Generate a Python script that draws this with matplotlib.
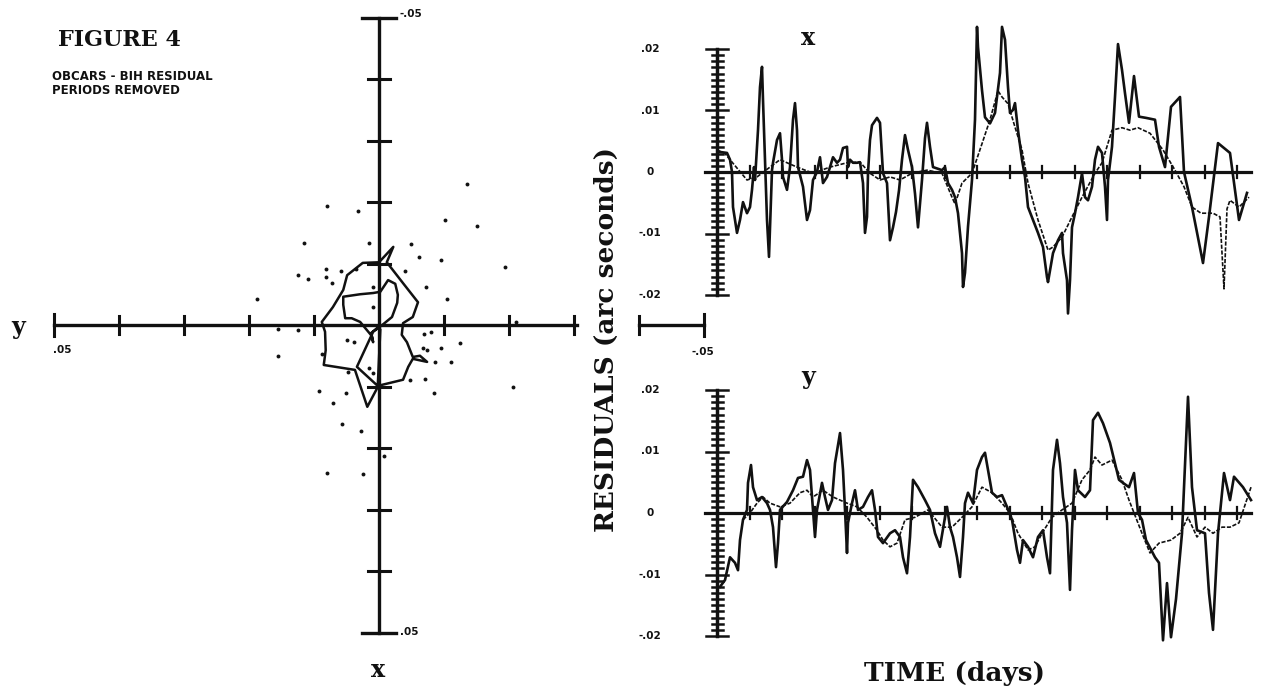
import matplotlib
matplotlib.use('Agg')
import matplotlib.pyplot as plt
import numpy as np

# ---- left panel: x/y polar motion residuals (milliarcsec) ----
scat_y = [-13.5, 8.0, 3.3, -10.2, -15.0, 11.5, 1.6, -4.9, -6.2, -9.5, -19.4, 8.2, 5.9, 3.5,
          12.5, 10.9, 8.2, 7.2, -4.0, -7.3, 18.7, -10.5, 1.0, 15.6, 12.4, -21.1, 15.6, 4.9,
          3.8, -6.9, -8.0, -12.4, -9.6, -6.7, -7.4, -11.0, -8.6, 4.8, 1.5, 0.9, -7.1, -4.8,
          -20.6, 9.3, 5.1, -8.4, 7.1, 5.7, 2.8, 8.0, 2.4, -0.8, 8.8, 1.0]
scat_x = [-23.0, -19.3, -18.6, -17.1, -16.1, -13.4, -13.4, -13.1, -11.1, -10.5, -9.5, -9.1,
          -8.8, -9.1, -8.1, -7.5, -7.8, -6.8, -8.8, -6.1, -4.2, -4.2, -6.2, 0.7, 0.8, -0.5,
          5.0, 2.5, 2.7, 1.4, 1.1, 3.0, 3.7, 3.7, 4.1, 6.0, 6.0, 7.7, 7.0, 7.8, 8.7, 8.9,
          10.0, 10.7, 11.0, 11.0, 12.7, 16.1, 17.3, 24.0, 24.3, 21.3, 4.7, -3.0]

path_y = [0.3, 1.2, 0.9, 1.1, 2.9, 4.2, 5.2, 5.5, 5.5, 2.9, 0.9, -0.2, -1.4, -2.5, -2.9, -2.8,
          -2.0, -0.5, 0.9, 3.4, 0.2, -3.7, -4.5, -5.2, -7.4, -6.3, -5.2, -4.3, -3.5, -3.7,
          -5.2, -6.0, -3.7, -1.2, -2.2, 0.0, 2.5, 4.9, 5.5, 7.1, 8.8, 8.3, 8.2, 8.5, 3.7,
          1.8, 0.2, -0.2]
path_x = [0.5, 1.3, 2.8, 1.8, -0.5, -1.1, -1.1, -3.3, -4.6, -5.0, -5.2, -5.4, -7.3, -6.7,
          -4.9, -3.6, -1.3, 0.0, 1.1, 6.8, 9.9, 8.9, 6.8, 5.5, 6.0, 5.0, 5.2, 2.8, 1.6, -0.3,
          -1.3, -3.7, -6.8, -10.2, -12.7, -10.2, -10.1, -8.1, -5.7, -2.9, -0.5, 1.1, 4.1,
          6.5, 7.3, 13.3, 10.1, 0.8]

# ---- right panels: residuals vs time (milliarcsec) ----
tx_raw = [1, 10, 13, 15, 16, 20, 23, 26, 30, 33, 35, 37, 38, 41, 43, 45, 46, 48, 50, 52, 55,
          56, 60, 63, 65, 66, 70, 73, 76, 78, 80, 81, 86, 90, 93, 96, 100, 103, 106, 110, 113,
          116, 120, 123, 126, 130, 131, 133, 136, 140, 143, 146, 148, 150, 151, 153, 155, 160,
          163, 166, 170, 173, 176, 179, 182, 185, 188, 191, 195, 198, 201, 205, 208, 210, 213,
          216, 225, 228, 231, 235, 238, 241, 245, 246, 248, 251, 255, 256, 258, 260, 261, 265,
          268, 273, 278, 283, 285, 288, 291, 293, 296, 298, 301, 305, 308, 311, 316, 321, 326,
          330, 331, 336, 341, 345, 346, 350, 351, 353, 355, 358, 361, 365, 368, 371, 375, 378,
          381, 385, 388, 390, 391, 395, 398, 401, 405, 408, 412, 417, 422, 429, 438, 442, 448,
          454, 463, 467, 475, 486, 492, 501, 513, 522, 530]
x_raw = [3.3, 3.1, 2.0, 0, -5.7, -9.9, -7.8, -4.9, -6.7, -5.7, -2.9, 0.8, -1.3, 6.8, 13.8,
         17.1, 11.7, 2.0, -7.8, -13.8, 0.3, 1.5, 5.2, 6.3, 2.0, -0.8, -2.9, 0.8, 8.5, 11.2, 6.8,
         0.8, -2.4, -7.8, -6.2, -1.3, 0, 2.4, -1.8, -0.8, 0.8, 2.4, 1.5, 2.0, 3.9, 4.1, 0.8,
         2.0, 1.5, 1.5, 1.6, -1.8, -9.9, -7.3, -0.2, 5.2, 7.6, 8.8, 8.0, -0.2, -1.8, -11.1,
         -9.0, -6.5, -3.0, 2.0, 6.0, 3.6, 0.8, -3.5, -9.0, -1.3, 5.5, 8.0, 4.1, 0.8, 0.3, 0.8,
         -1.8, -2.9, -4.1, -6.7, -13.2, -18.7, -16.4, -8.9, -1.3, 2.0, 8.5, 23.6, 20.3, 13.3,
         8.9, 7.9, 9.6, 16.1, 23.6, 21.5, 13.8, 9.6, 10.1, 11.2, 6.8, 2.0, -0.8, -5.7, -7.8,
         -9.9, -12.2, -17.1, -17.9, -13.2, -11.1, -9.9, -13.2, -17.6, -23.0, -17.6, -9.0, -6.7,
         -4.1, -0.2, -4.1, -4.6, -2.4, 2.0, 4.1, 3.1, -2.4, -7.8, -1.3, 4.1, 12.2, 20.8, 16.6,
         12.8, 8.0, 15.6, 9.0, 8.8, 8.5, 4.1, 0.8, 10.6, 12.2, 0, -5.7, -14.8, -7.3, 4.7, 3.1,
         -7.8, -3.4]

tx_smooth = [1, 8, 13, 30, 40, 53, 63, 80, 96, 113, 130, 143, 153, 163, 173, 183, 195, 210,
             225, 235, 238, 245, 255, 265, 273, 281, 285, 291, 298, 305, 311, 321, 331, 336,
             345, 355, 365, 378, 385, 395, 405, 413, 421, 433, 446, 458, 467, 475, 484, 496,
             503, 507, 510, 513, 522, 532]
x_smooth = [3.5, 3.0, 2.0, -1.3, -0.8, 0.8, 2.0, 0.8, -0.2, 0.8, 1.5, 1.6, -0.2, -1.3, -0.8,
            -1.3, -0.2, 0.3, -0.2, -4.1, -5.2, -1.8, -0.2, 4.6, 8.5, 13.2, 12.2, 11.1, 7.3,
            3.6, -1.8, -7.8, -12.7, -12.2, -10.6, -7.3, -4.1, -0.2, 1.5, 6.8, 7.2, 6.8, 7.2,
            6.3, 3.6, 0.3, -2.4, -5.7, -6.7, -6.7, -7.3, -19.0, -6.0, -4.6, -5.7, -4.1]

ty_raw = [3, 8, 13, 18, 21, 23, 26, 30, 31, 34, 36, 40, 45, 50, 53, 56, 59, 61, 63, 70, 76,
          81, 86, 90, 93, 96, 98, 100, 105, 108, 111, 115, 118, 123, 126, 128, 130, 131, 135,
          138, 141, 146, 151, 155, 158, 161, 166, 173, 178, 183, 186, 190, 193, 196, 201, 208,
          213, 218, 223, 228, 230, 233, 236, 240, 243, 246, 248, 251, 256, 260, 265, 268, 271,
          275, 280, 285, 290, 295, 300, 303, 306, 311, 316, 321, 326, 330, 333, 336, 340, 343,
          346, 350, 353, 355, 358, 361, 368, 373, 376, 381, 386, 393, 398, 402, 406, 412, 417,
          421, 425, 429, 438, 442, 446, 450, 454, 459, 465, 471, 475, 480, 488, 492, 496, 501,
          507, 513, 517, 526, 534]
y_raw = [-12.0, -10.9, -7.2, -8.1, -9.3, -4.4, -1.1, 0.5, 4.9, 7.8, 4.2, 2.1, 2.6, 1.6, 0.5,
         -2.3, -8.8, -4.9, 0.5, 1.8, 3.7, 5.7, 5.9, 8.6, 7.0, 0.5, -3.9, 0.5, 4.9, 2.6, 0.5,
         2.1, 8.1, 13.0, 7.0, 0.5, -6.5, -1.6, 1.6, 3.7, 0.5, 1.0, 2.6, 3.7, 0.5, -3.9, -4.9,
         -3.3, -2.8, -3.9, -7.2, -9.8, -3.9, 5.4, 4.2, 2.1, 0.5, -3.3, -5.5, -0.7, 1.0, -2.3,
         -3.9, -7.2, -10.4, -3.9, 1.6, 3.3, 1.6, 7.0, 9.1, 9.8, 7.0, 3.3, 2.6, 2.9, 1.0, -1.1,
         -6.0, -8.1, -4.4, -5.5, -7.2, -3.9, -2.8, -7.2, -9.8, 7.0, 11.9, 8.1, 2.6, -1.6,
         -12.5, -2.8, 7.0, 3.7, 2.6, 3.7, 15.1, 16.3, 14.6, 11.4, 8.1, 5.4, 4.9, 4.2, 6.5, 0,
         -1.1, -4.4, -7.2, -8.1, -20.7, -11.4, -20.2, -14.0, -3.3, 18.9, 4.2, -2.8, -3.3,
         -13.0, -19.0, -3.3, 6.5, 2.1, 5.9, 4.2, 2.1]

ty_smooth = [26, 33, 40, 46, 53, 63, 73, 83, 90, 96, 106, 116, 130, 140, 150, 160, 166, 173,
             180, 188, 198, 211, 225, 235, 245, 255, 265, 275, 285, 293, 301, 311, 318, 325,
             335, 345, 355, 365, 373, 378, 385, 395, 405, 412, 425, 433, 442, 454, 463, 471,
             480, 488, 496, 505, 513, 522, 534]
y_smooth = [-1.1, 0, 1.6, 2.6, 1.6, 1.0, 1.6, 3.3, 3.7, 2.6, 3.7, 2.6, 1.6, 1.0, -0.7, -2.8,
            -4.4, -5.5, -4.9, -1.1, -0.7, 0.5, -2.3, -2.3, -0.7, 1.0, 4.2, 3.3, 1.6, 0, -3.3,
            -6.0, -5.5, -3.3, -0.7, 0.5, 1.6, 5.4, 7.0, 9.1, 7.8, 8.6, 5.4, 2.1, -3.3, -6.5,
            -4.9, -4.4, -3.3, -0.7, -3.9, -2.3, -3.3, -2.3, -2.3, -1.6, 4.2]

panel_ticks = [0.02, 0.01, 0, -0.01, -0.02]
panel_tick_labels = ['.02', '.01', '0', '-.01', '-.02']

W, H = 1263, 700
fig = plt.figure(figsize=(W / 100, H / 100), dpi=100)
SERIF = 'DejaVu Serif'
INK = '#111111'


def box(x0, y0, x1, y1):
    a = fig.add_axes([x0 / W, 1 - y1 / H, (x1 - x0) / W, (y1 - y0) / H])
    a.axis('off')
    return a


def ftext(px, py, s, **kw):
    fig.text(px / W, 1 - py / H, s, color=INK, **kw)


# ---------------- left panel ----------------
ax = box(54, 17.5, 704, 632.5)
ax.set_xlim(0.05, -0.05)
ax.set_ylim(0.05, -0.05)
lw_ax = 2.4
# horizontal (y) axis, interrupted where the residual label sits
ax.plot([0.05, -0.0305], [0, 0], color=INK, lw=lw_ax, clip_on=False)
ax.plot([-0.04, -0.05], [0, 0], color=INK, lw=lw_ax, clip_on=False)
# vertical (x) axis
ax.plot([0, 0], [-0.05, 0.05], color=INK, lw=lw_ax, clip_on=False)
for k in range(-4, 5):
    if k == 0:
        continue
    v = k * 0.01
    ax.plot([v, v], [-0.0014, 0.0014], color=INK, lw=2.2, clip_on=False)
    ax.plot([-0.0017, 0.0017], [v, v], color=INK, lw=2.2, clip_on=False)
for v in [0.05, -0.05]:
    ax.plot([v, v], [-0.0018, 0.0018], color=INK, lw=2.2, clip_on=False)
    ax.plot([-0.0026, 0.0026], [v, v], color=INK, lw=2.4, clip_on=False)

ax.plot(np.array(scat_y) / 1000, np.array(scat_x) / 1000, 'o', color=INK, ms=2.8,
        mew=0, clip_on=False)
ax.plot(np.array(path_y) / 1000, np.array(path_x) / 1000, color=INK, lw=1.8,
        solid_joinstyle='round', clip_on=False)

ftext(58, 40, 'FIGURE 4', fontsize=16, family=SERIF, fontweight='bold', va='center')
ftext(52, 77, 'OBCARS - BIH RESIDUAL', fontsize=8.5, fontweight='bold', va='center')
ftext(52, 90, 'PERIODS REMOVED', fontsize=8.5, fontweight='bold', va='center')
ftext(400, 14, '-.05', fontsize=7.5, fontweight='bold', va='center')
ftext(400, 632, '.05', fontsize=7.5, fontweight='bold', va='center')
ftext(62, 350, '.05', fontsize=7.5, fontweight='bold', ha='center', va='center')
ftext(703, 352, '-.05', fontsize=7.5, fontweight='bold', ha='center', va='center')
ftext(18, 327, 'y', fontsize=17, family=SERIF, fontweight='bold', ha='center', va='center')
ftext(378, 670, 'x', fontsize=17, family=SERIF, fontweight='bold', ha='center', va='center')


# ---------------- right panels ----------------
def panel(y0, y1, t_raw, v_raw, t_sm, v_sm):
    a = box(717, y0, 1251, y1)
    a.set_xlim(0, 534)
    a.set_ylim(-0.02, 0.02)
    a.plot(t_sm, np.array(v_sm) / 1000, color=INK, lw=1.2, ls=(0, (2.5, 1)),
           clip_on=False)
    a.plot(t_raw, np.array(v_raw) / 1000, color=INK, lw=1.9, clip_on=False)
    a.plot([-12, 534], [0, 0], color=INK, lw=2.3, clip_on=False)
    for tt in np.arange(32.5, 534, 32.5):
        a.plot([tt, tt], [-0.001, 0.001], color=INK, lw=1.6, clip_on=False)
    a.plot([0, 0], [-0.02, 0.02], color=INK, lw=2.5, clip_on=False)
    for v in np.arange(-20, 21) / 1000:
        half = 11 if abs(round(v * 1000)) % 10 == 0 else 5.5
        a.plot([-half, half], [v, v], color=INK, lw=1.8, clip_on=False)
    for v, s in zip(panel_ticks, panel_tick_labels):
        a.text(-67, v, s, fontsize=7.5, fontweight='bold', ha='center', va='center',
               color=INK, clip_on=False)
    return a


panel(49, 295, tx_raw, x_raw, tx_smooth, x_smooth)
panel(390, 636, ty_raw, y_raw, ty_smooth, y_smooth)
ftext(808, 38, 'x', fontsize=17, family=SERIF, fontweight='bold', ha='center', va='center')
ftext(808, 377, 'y', fontsize=17, family=SERIF, fontweight='bold', ha='center', va='center')

ftext(606, 340, 'RESIDUALS (arc seconds)', fontsize=19, family=SERIF, fontweight='bold',
      rotation=90, ha='center', va='center')
ftext(955, 674, 'TIME (days)', fontsize=19, family=SERIF, fontweight='bold',
      ha='center', va='center')

fig.savefig('out.png', dpi=100, facecolor='white')
